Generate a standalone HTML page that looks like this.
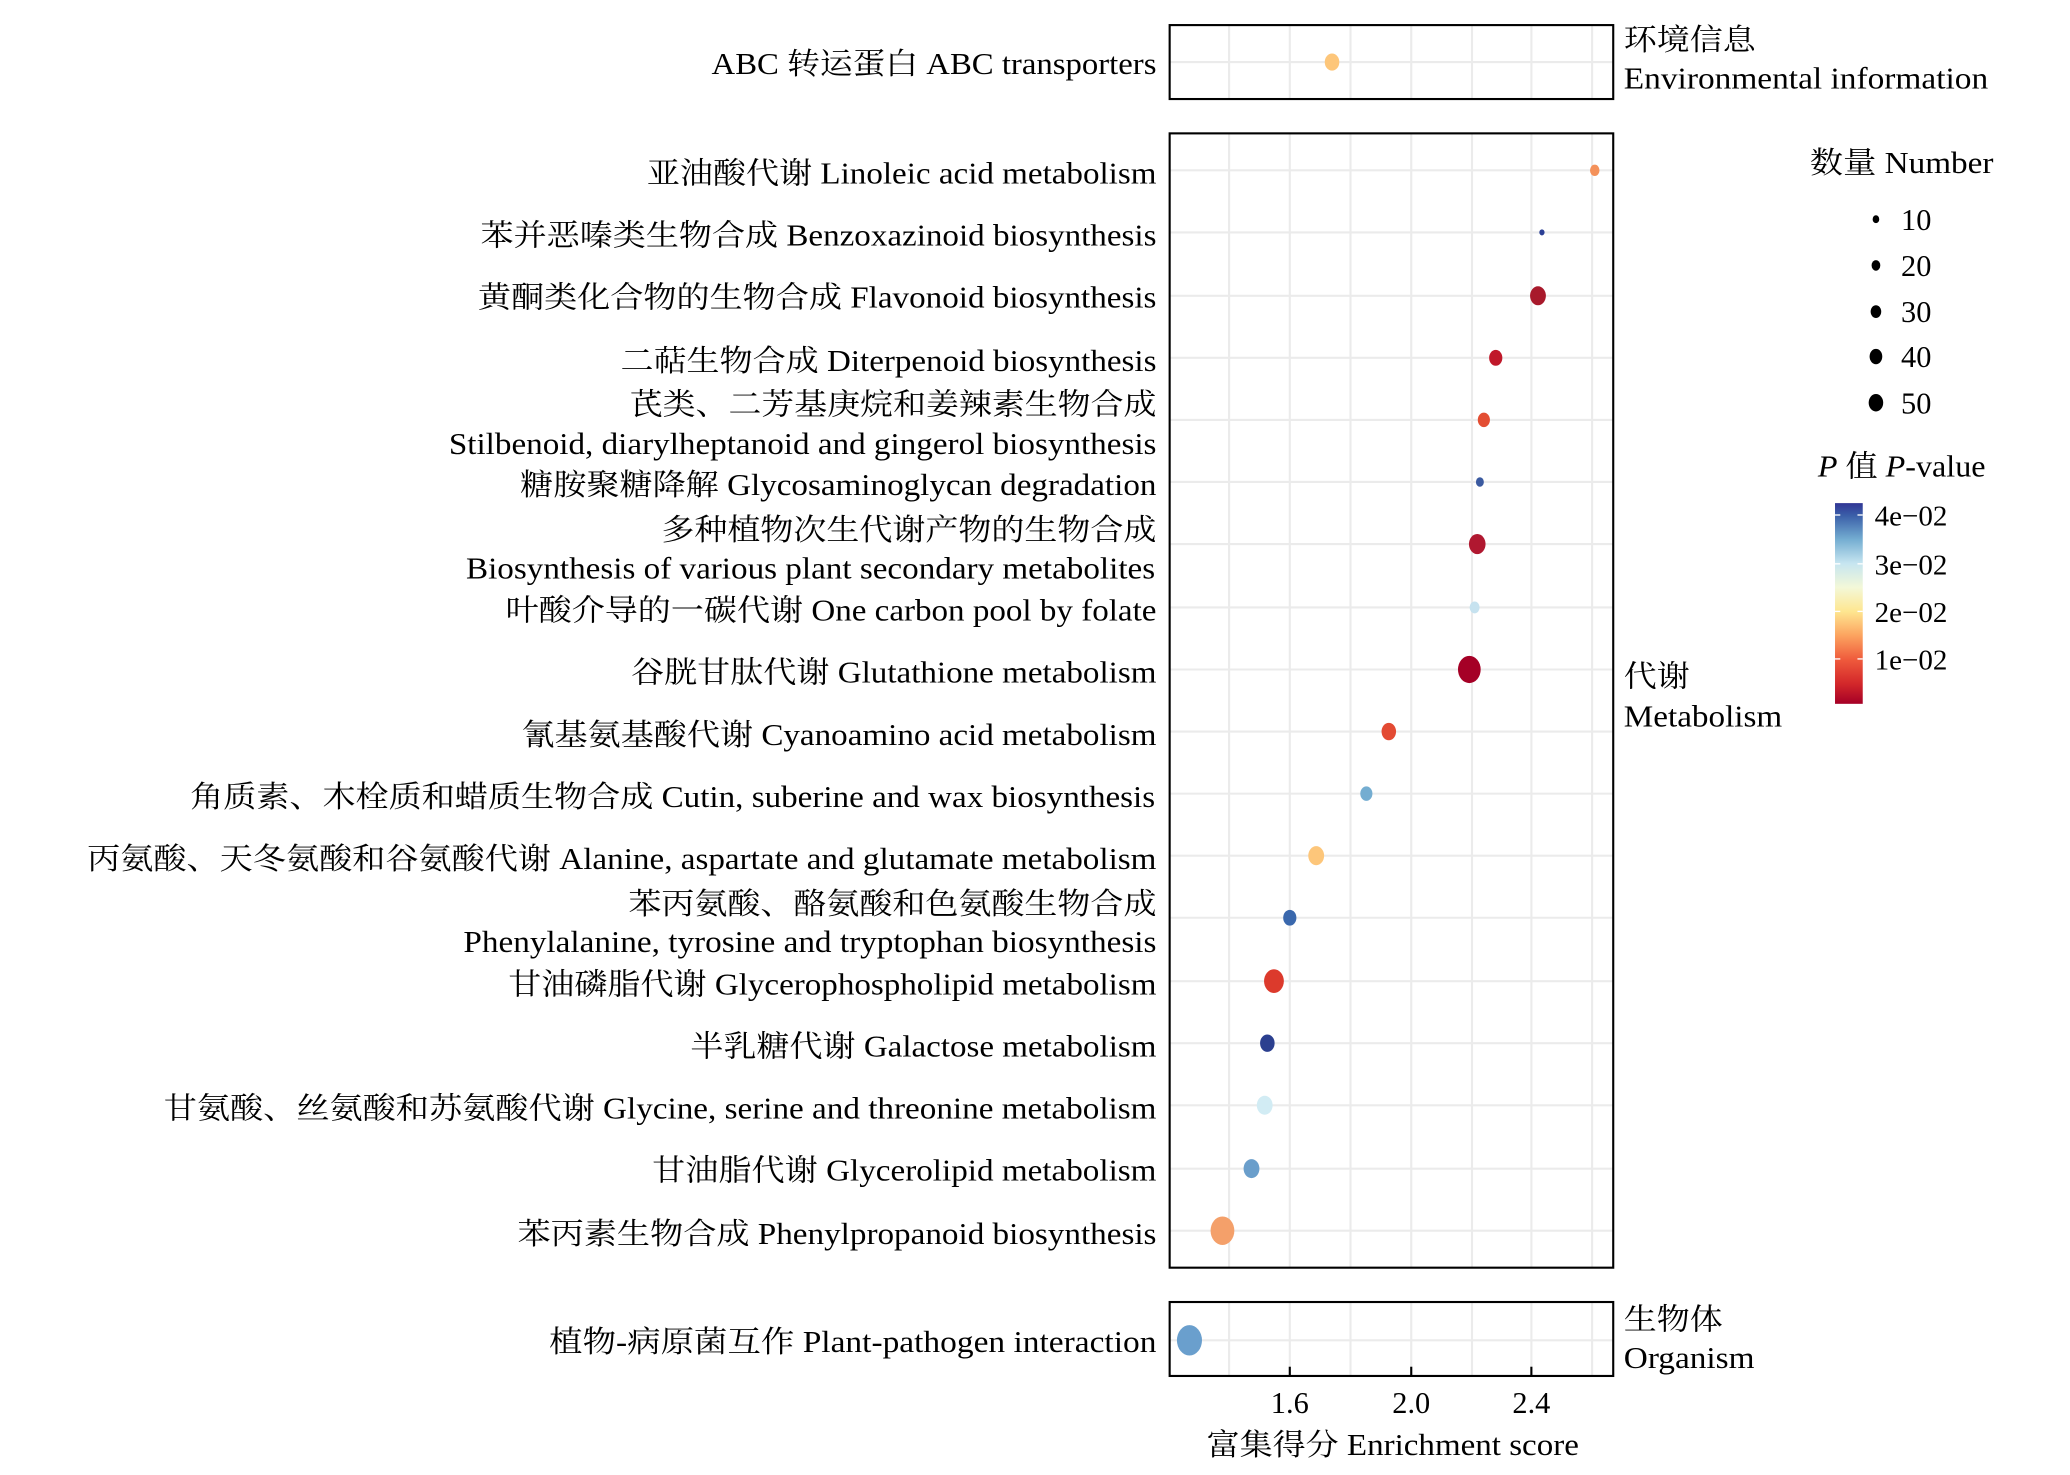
<!DOCTYPE html>
<html><head><meta charset="utf-8"><style>
html,body{margin:0;padding:0;background:#fff;}
svg{display:block;}
text{font-family:"Liberation Serif","Noto Serif CJK SC",serif;fill:#000;}
</style></head><body>
<svg width="2070" height="1475" viewBox="0 0 1568 1117" preserveAspectRatio="none" xmlns="http://www.w3.org/2000/svg">
<defs>
<linearGradient id="cb" x1="0" y1="0" x2="0" y2="1">
<stop offset="0" stop-color="#313695"/>
<stop offset="0.06" stop-color="#3a5ea8"/>
<stop offset="0.18" stop-color="#74add1"/>
<stop offset="0.30" stop-color="#c6e5f0"/>
<stop offset="0.42" stop-color="#f3f8d8"/>
<stop offset="0.54" stop-color="#fee690"/>
<stop offset="0.66" stop-color="#fca35f"/>
<stop offset="0.78" stop-color="#ef5a3c"/>
<stop offset="0.90" stop-color="#d3272a"/>
<stop offset="1" stop-color="#a50026"/>
</linearGradient>
</defs>
<g stroke="#ebebeb" stroke-width="1.6">
<line x1="931" y1="19" x2="931" y2="75"/><line x1="977" y1="19" x2="977" y2="75"/><line x1="1023" y1="19" x2="1023" y2="75"/><line x1="1069" y1="19" x2="1069" y2="75"/><line x1="1115" y1="19" x2="1115" y2="75"/><line x1="1160" y1="19" x2="1160" y2="75"/><line x1="1206" y1="19" x2="1206" y2="75"/>
<line x1="931" y1="101" x2="931" y2="960"/><line x1="977" y1="101" x2="977" y2="960"/><line x1="1023" y1="101" x2="1023" y2="960"/><line x1="1069" y1="101" x2="1069" y2="960"/><line x1="1115" y1="101" x2="1115" y2="960"/><line x1="1160" y1="101" x2="1160" y2="960"/><line x1="1206" y1="101" x2="1206" y2="960"/>
<line x1="931" y1="986" x2="931" y2="1042"/><line x1="977" y1="986" x2="977" y2="1042"/><line x1="1023" y1="986" x2="1023" y2="1042"/><line x1="1069" y1="986" x2="1069" y2="1042"/><line x1="1115" y1="986" x2="1115" y2="1042"/><line x1="1160" y1="986" x2="1160" y2="1042"/><line x1="1206" y1="986" x2="1206" y2="1042"/>
<line x1="886" y1="47" x2="1222" y2="47"/>
<line x1="886" y1="1015" x2="1222" y2="1015"/>
<line x1="886" y1="129" x2="1222" y2="129"/><line x1="886" y1="176" x2="1222" y2="176"/><line x1="886" y1="224" x2="1222" y2="224"/><line x1="886" y1="271" x2="1222" y2="271"/><line x1="886" y1="318" x2="1222" y2="318"/><line x1="886" y1="365" x2="1222" y2="365"/><line x1="886" y1="412" x2="1222" y2="412"/><line x1="886" y1="460" x2="1222" y2="460"/><line x1="886" y1="507" x2="1222" y2="507"/><line x1="886" y1="554" x2="1222" y2="554"/><line x1="886" y1="601" x2="1222" y2="601"/><line x1="886" y1="648" x2="1222" y2="648"/><line x1="886" y1="695" x2="1222" y2="695"/><line x1="886" y1="743" x2="1222" y2="743"/><line x1="886" y1="790" x2="1222" y2="790"/><line x1="886" y1="837" x2="1222" y2="837"/><line x1="886" y1="885" x2="1222" y2="885"/><line x1="886" y1="932" x2="1222" y2="932"/>
</g>
<g fill="none" stroke="#000" stroke-width="1.6">
<rect x="886" y="19" width="336" height="56"/>
<rect x="886" y="101" width="336" height="859"/>
<rect x="886" y="986" width="336" height="56"/>
<line x1="977" y1="1042" x2="977" y2="1035"/><line x1="1069" y1="1042" x2="1069" y2="1035"/><line x1="1160" y1="1042" x2="1160" y2="1035"/>
</g>
<ellipse cx="1009" cy="47" rx="5.5" ry="6.5" fill="#fdc67a"/>
<ellipse cx="1208" cy="129" rx="3.6" ry="4.3" fill="#f4915a"/>
<ellipse cx="1168" cy="176" rx="2" ry="2.3" fill="#2b3f95"/>
<ellipse cx="1165" cy="224" rx="6" ry="7.2" fill="#a8192b"/>
<ellipse cx="1133" cy="271" rx="5" ry="6" fill="#c0182a"/>
<ellipse cx="1124" cy="318" rx="4.6" ry="5.5" fill="#e34e33"/>
<ellipse cx="1121" cy="365" rx="3" ry="3.6" fill="#3b5aa0"/>
<ellipse cx="1119" cy="412" rx="6.3" ry="7.6" fill="#b01830"/>
<ellipse cx="1117" cy="460" rx="3.8" ry="4.5" fill="#c6e2ef"/>
<ellipse cx="1113" cy="507" rx="8.6" ry="10.3" fill="#a50026"/>
<ellipse cx="1052" cy="554" rx="5.5" ry="6.6" fill="#e34a33"/>
<ellipse cx="1035" cy="601" rx="4.6" ry="5.5" fill="#74add1"/>
<ellipse cx="997" cy="648" rx="6" ry="7.2" fill="#fdc67a"/>
<ellipse cx="977" cy="695" rx="5" ry="6" fill="#3a68ad"/>
<ellipse cx="965" cy="743" rx="7.5" ry="9" fill="#dc3a2c"/>
<ellipse cx="960" cy="790" rx="5.5" ry="6.6" fill="#2b3f8f"/>
<ellipse cx="958" cy="837" rx="6" ry="7.2" fill="#d2ecf4"/>
<ellipse cx="948" cy="885" rx="6" ry="7.2" fill="#6a9ecb"/>
<ellipse cx="926" cy="932" rx="9" ry="10.8" fill="#f4a06a"/>
<ellipse cx="901" cy="1015" rx="9.5" ry="11.5" fill="#6a9fcd"/>
<g font-size="23" text-anchor="end">
<text x="876" y="56" textLength="337" lengthAdjust="spacingAndGlyphs">ABC 转运蛋白 ABC transporters</text>
<text x="876" y="139" textLength="386" lengthAdjust="spacingAndGlyphs">亚油酸代谢 Linoleic acid metabolism</text>
<text x="876" y="186" textLength="512" lengthAdjust="spacingAndGlyphs">苯并恶嗪类生物合成 Benzoxazinoid biosynthesis</text>
<text x="876" y="233" textLength="514" lengthAdjust="spacingAndGlyphs">黄酮类化合物的生物合成 Flavonoid biosynthesis</text>
<text x="876" y="281" textLength="406" lengthAdjust="spacingAndGlyphs">二萜生物合成 Diterpenoid biosynthesis</text>
<text x="876" y="314" textLength="399" lengthAdjust="spacingAndGlyphs">芪类、二芳基庚烷和姜辣素生物合成</text>
<text x="876" y="344" textLength="536" lengthAdjust="spacingAndGlyphs">Stilbenoid, diarylheptanoid and gingerol biosynthesis</text>
<text x="876" y="375" textLength="482" lengthAdjust="spacingAndGlyphs">糖胺聚糖降解 Glycosaminoglycan degradation</text>
<text x="876" y="409" textLength="375" lengthAdjust="spacingAndGlyphs">多种植物次生代谢产物的生物合成</text>
<text x="875" y="438" textLength="522" lengthAdjust="spacingAndGlyphs">Biosynthesis of various plant secondary metabolites</text>
<text x="876" y="470" textLength="493" lengthAdjust="spacingAndGlyphs">叶酸介导的一碳代谢 One carbon pool by folate</text>
<text x="876" y="517" textLength="398" lengthAdjust="spacingAndGlyphs">谷胱甘肽代谢 Glutathione metabolism</text>
<text x="876" y="564" textLength="481" lengthAdjust="spacingAndGlyphs">氰基氨基酸代谢 Cyanoamino acid metabolism</text>
<text x="875" y="611" textLength="731" lengthAdjust="spacingAndGlyphs">角质素、木栓质和蜡质生物合成 Cutin, suberine and wax biosynthesis</text>
<text x="876" y="658" textLength="810" lengthAdjust="spacingAndGlyphs">丙氨酸、天冬氨酸和谷氨酸代谢 Alanine, aspartate and glutamate metabolism</text>
<text x="876" y="692" textLength="400" lengthAdjust="spacingAndGlyphs">苯丙氨酸、酪氨酸和色氨酸生物合成</text>
<text x="876" y="721" textLength="525" lengthAdjust="spacingAndGlyphs">Phenylalanine, tyrosine and tryptophan biosynthesis</text>
<text x="876" y="753" textLength="491" lengthAdjust="spacingAndGlyphs">甘油磷脂代谢 Glycerophospholipid metabolism</text>
<text x="876" y="800" textLength="353" lengthAdjust="spacingAndGlyphs">半乳糖代谢 Galactose metabolism</text>
<text x="876" y="847" textLength="752" lengthAdjust="spacingAndGlyphs">甘氨酸、丝氨酸和苏氨酸代谢 Glycine, serine and threonine metabolism</text>
<text x="876" y="894" textLength="382" lengthAdjust="spacingAndGlyphs">甘油脂代谢 Glycerolipid metabolism</text>
<text x="876" y="942" textLength="484" lengthAdjust="spacingAndGlyphs">苯丙素生物合成 Phenylpropanoid biosynthesis</text>
<text x="876" y="1024" textLength="460" lengthAdjust="spacingAndGlyphs">植物-病原菌互作 Plant-pathogen interaction</text>
</g>
<g font-size="23">
<text x="1230" y="38" textLength="100" lengthAdjust="spacingAndGlyphs">环境信息</text>
<text x="1230" y="67" textLength="276" lengthAdjust="spacingAndGlyphs">Environmental information</text>
<text x="1230" y="520" textLength="50" lengthAdjust="spacingAndGlyphs">代谢</text>
<text x="1230" y="550" textLength="120" lengthAdjust="spacingAndGlyphs">Metabolism</text>
<text x="1230" y="1007" textLength="75" lengthAdjust="spacingAndGlyphs">生物体</text>
<text x="1230" y="1036" textLength="99" lengthAdjust="spacingAndGlyphs">Organism</text>
</g>
<g font-size="23" text-anchor="middle">
<text x="977" y="1070">1.6</text>
<text x="1069" y="1070">2.0</text>
<text x="1160" y="1070">2.4</text>
<text x="1055" y="1102" textLength="282" lengthAdjust="spacingAndGlyphs">富集得分 Enrichment score</text>
</g>
<g font-size="23">
<text x="1371" y="131" textLength="139" lengthAdjust="spacingAndGlyphs">数量 Number</text>
<text x="1440" y="174">10</text>
<text x="1440" y="209">20</text>
<text x="1440" y="244">30</text>
<text x="1440" y="278">40</text>
<text x="1440" y="313">50</text>
</g>
<ellipse cx="1421" cy="166" rx="2.5" ry="3" fill="#000"/>
<ellipse cx="1421" cy="201" rx="3.3" ry="4" fill="#000"/>
<ellipse cx="1421" cy="236" rx="4" ry="4.8" fill="#000"/>
<ellipse cx="1421" cy="270" rx="4.8" ry="5.8" fill="#000"/>
<ellipse cx="1421" cy="305" rx="5.5" ry="6.6" fill="#000"/>
<text x="1377" y="361" font-size="23" textLength="127" lengthAdjust="spacingAndGlyphs"><tspan font-style="italic">P</tspan> 值 <tspan font-style="italic">P</tspan>-value</text>
<rect x="1390" y="381" width="21" height="152" fill="url(#cb)"/>
<g stroke="#fff" stroke-width="1">
<line x1="1390" y1="390" x2="1394" y2="390"/><line x1="1407" y1="390" x2="1411" y2="390"/>
<line x1="1390" y1="427" x2="1394" y2="427"/><line x1="1407" y1="427" x2="1411" y2="427"/>
<line x1="1390" y1="463" x2="1394" y2="463"/><line x1="1407" y1="463" x2="1411" y2="463"/>
<line x1="1390" y1="499" x2="1394" y2="499"/><line x1="1407" y1="499" x2="1411" y2="499"/>
</g>
<g font-size="22">
<text x="1420" y="398">4e−02</text>
<text x="1420" y="435">3e−02</text>
<text x="1420" y="471">2e−02</text>
<text x="1420" y="507">1e−02</text>
</g>
</svg>
</body></html>
